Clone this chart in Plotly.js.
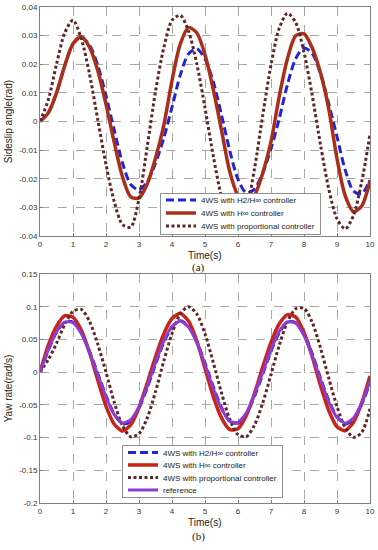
<!DOCTYPE html>
<html>
<head>
<meta charset="utf-8">
<script src="https://cdn.plot.ly/plotly-3.0.1.min.js"></script>
<style>html,body{margin:0;padding:0;background:#fff;}#chart{width:378px;height:550px;}</style>
</head>
<body>
<div id="chart"></div>
<script>
// Time axis (s)
const time = [0,0.25,0.5,0.75,1,1.25,1.5,1.75,2,2.25,2.5,2.75,3,3.25,3.5,3.75,4,4.25,4.5,4.75,5,5.25,5.5,5.75,6,6.25,6.5,6.75,7,7.25,7.5,7.75,8,8.25,8.5,8.75,9,9.25,9.5,9.75,10];

// (a) Sideslip angle (rad)
const slipH2Hinf = [0,0.003,0.010,0.0195,0.0272,0.0293,0.0267,0.0196,0.009,-0.003,-0.0145,-0.022,-0.0239,-0.021,-0.0146,-0.0058,0.005,0.0162,0.0236,0.0254,0.0218,0.0139,0.0023,-0.0102,-0.0202,-0.0249,-0.0236,-0.018,-0.0095,0.001,0.013,0.022,0.0257,0.0237,0.0167,0.0062,-0.0053,-0.017,-0.0243,-0.0252,-0.0205];
const slipHinf = [0,0.003,0.010,0.0195,0.0272,0.0296,0.026,0.0178,0.006,-0.0073,-0.0193,-0.0263,-0.0267,-0.0218,-0.0128,-0.0014,0.0143,0.027,0.0328,0.031,0.0233,0.0112,-0.003,-0.0175,-0.026,-0.0298,-0.026,-0.018,-0.007,0.0088,0.022,0.030,0.0306,0.0257,0.017,0.0044,-0.013,-0.026,-0.0315,-0.0295,-0.0206];
const slipProp = [0,0.0075,0.020,0.031,0.0354,0.029,0.0166,0.0007,-0.015,-0.028,-0.036,-0.0369,-0.027,-0.0087,0.0105,0.0257,0.0353,0.0371,0.0316,0.0202,0.0048,-0.012,-0.0264,-0.0356,-0.0378,-0.031,-0.0165,0.0022,0.0198,0.0326,0.0378,0.0345,0.0242,0.0091,-0.0081,-0.0235,-0.034,-0.0375,-0.0328,-0.021,-0.0045];

// (b) Yaw rate (rad/s)
const yawH2Hinf = [0,0.033,0.061,0.0765,0.0765,0.0605,0.032,-0.002,-0.036,-0.064,-0.079,-0.075,-0.055,-0.024,0.012,0.045,0.069,0.0785,0.070,0.047,0.014,-0.022,-0.054,-0.075,-0.078,-0.064,-0.037,-0.003,0.032,0.060,0.0765,0.0755,0.058,0.028,-0.009,-0.043,-0.068,-0.079,-0.072,-0.049,-0.017];
const yawHinf = [0,0.041,0.070,0.0862,0.0839,0.0643,0.030,-0.012,-0.052,-0.0797,-0.090,-0.0805,-0.054,-0.0165,0.0236,0.0585,0.082,0.090,0.078,0.048,0.0054,-0.037,-0.070,-0.088,-0.0865,-0.0667,-0.0326,0.008,0.0455,0.074,0.088,0.084,0.0605,0.0237,-0.0205,-0.0586,-0.0835,-0.0895,-0.0766,-0.047,-0.006];
const yawProp = [0,0.019,0.044,0.073,0.093,0.096,0.0775,0.043,0,-0.046,-0.082,-0.099,-0.094,-0.070,-0.030,0.0167,0.059,0.089,0.100,0.089,0.0585,0.015,-0.0316,-0.072,-0.0955,-0.0986,-0.081,-0.047,-0.0036,0.041,0.077,0.097,0.0974,0.076,0.037,-0.0092,-0.0526,-0.085,-0.0996,-0.092,-0.056];
const yawRef = [0,0.034,0.062,0.0765,0.0755,0.059,0.030,-0.0044,-0.038,-0.065,-0.0775,-0.0727,-0.0527,-0.0216,0.0145,0.0474,0.070,0.078,0.069,0.045,0.0116,-0.025,-0.056,-0.075,-0.0767,-0.0624,-0.0348,0,0.0348,0.0623,0.0767,0.0748,0.056,0.025,-0.0117,-0.0456,-0.0695,-0.078,-0.070,-0.047,-0.014];

// Labels
const seriesNamesA = ['4WS with H2/H\u221e controller','4WS with H\u221e controller','4WS with proportional controller'];
const seriesNamesB = ['4WS with H2/H\u221e controller','4WS with H\u221e controller','4WS with proportional controller','reference'];
const xTicks = [0,1,2,3,4,5,6,7,8,9,10];
const yTicksA = [-0.04,-0.03,-0.02,-0.01,0,0.01,0.02,0.03,0.04];
const yTickTextA = ['-0.04','-0.03','-0.02','-0.01','0','0.01','0.02','0.03','0.04'];
const yTicksB = [-0.2,-0.15,-0.1,-0.05,0,0.05,0.1,0.15];
const yTickTextB = ['-0.2','-0.15','-0.1','-0.05','0','0.05','0.1','0.15'];
const xTitle = 'Time(s)';

const BLUE='#2323d8', RED_A='#a8301a', RED_B='#c82418', BROWN='#5e2626', PURPLE='#8e3cd0';
const blueLine = {color:BLUE, width:3, dash:'8px,4px', shape:'spline', smoothing:0.8};
const dotLine = {color:BROWN, width:3, dash:'3px,2.5px', shape:'spline', smoothing:0.8};

const traces = [
  {x:time, y:slipH2Hinf, name:seriesNamesA[0], mode:'lines', line:blueLine, xaxis:'x', yaxis:'y', legend:'legend'},
  {x:time, y:slipHinf, name:seriesNamesA[1], mode:'lines', line:{color:RED_A, width:3.5, shape:'spline', smoothing:0.8}, xaxis:'x', yaxis:'y', legend:'legend'},
  {x:time, y:slipProp, name:seriesNamesA[2], mode:'lines', line:dotLine, xaxis:'x', yaxis:'y', legend:'legend'},
  {x:time, y:yawH2Hinf, name:seriesNamesB[0], mode:'lines', line:blueLine, xaxis:'x2', yaxis:'y2', legend:'legend2'},
  {x:time, y:yawHinf, name:seriesNamesB[1], mode:'lines', line:{color:RED_B, width:3.5, shape:'spline', smoothing:0.6}, xaxis:'x2', yaxis:'y2', legend:'legend2'},
  {x:time, y:yawProp, name:seriesNamesB[2], mode:'lines', line:dotLine, xaxis:'x2', yaxis:'y2', legend:'legend2'},
  {x:time, y:yawRef, name:seriesNamesB[3], mode:'lines', line:{color:PURPLE, width:3, shape:'spline', smoothing:0.6}, xaxis:'x2', yaxis:'y2', legend:'legend2'}
];

const axisCommon = {
  showline:true, mirror:true, linecolor:'#808080', linewidth:1,
  ticks:'inside', ticklen:3, tickcolor:'#808080',
  showgrid:true, gridcolor:'#a8a8a8', griddash:'dash', gridwidth:1,
  zeroline:false, tickfont:{size:8, color:'#333'}, automargin:false
};
const xCommon = Object.assign({}, axisCommon, {range:[0,10], tickvals:xTicks, ticktext:xTicks.map(String)});

const legendCommon = {xanchor:'left', yanchor:'top', bgcolor:'#ffffff', bordercolor:'#909090', borderwidth:1,
  font:{size:8, color:'#222'}, tracegroupgap:0};

const annFont = {family:'Liberation Sans, Arial, sans-serif', size:10, color:'#222'};
const serifFont = {family:'Liberation Serif, Times New Roman, serif', size:11, color:'#222'};

const layout = {
  width:378, height:550,
  margin:{l:40, r:8, t:7, b:47},
  paper_bgcolor:'#ffffff', plot_bgcolor:'#ffffff',
  font:{family:'Liberation Sans, Arial, sans-serif', size:8, color:'#222'},
  showlegend:true,
  xaxis:Object.assign({}, xCommon, {anchor:'y', domain:[0,1]}),
  yaxis:Object.assign({}, axisCommon, {anchor:'x', domain:[0.5383,1], range:[-0.04,0.04], tickvals:yTicksA, ticktext:yTickTextA,
    title:{text:'Sideslip angle(rad)', font:{size:10, color:'#222'}, standoff:4}}),
  xaxis2:Object.assign({}, xCommon, {anchor:'y2', domain:[0,1]}),
  yaxis2:Object.assign({}, axisCommon, {anchor:'x2', domain:[0,0.4617], range:[-0.2,0.15], tickvals:yTicksB, ticktext:yTickTextB,
    title:{text:'Yaw rate(rad/s)', font:{size:10, color:'#222'}, standoff:4}}),
  legend:Object.assign({}, legendCommon, {x:0.3636, y:0.626}),
  legend2:Object.assign({}, legendCommon, {x:0.2485, y:0.117}),
  annotations:[
    {text:xTitle, xref:'paper', yref:'paper', x:0.5, y:0.5, showarrow:false, xanchor:'center', yanchor:'middle', font:annFont},
    {text:xTitle, xref:'paper', yref:'paper', x:0.5, y:-0.0403, showarrow:false, xanchor:'center', yanchor:'middle', font:annFont},
    {text:'(a)', xref:'paper', yref:'paper', x:0.479, y:0.4738, showarrow:false, xanchor:'center', yanchor:'middle', font:serifFont},
    {text:'(b)', xref:'paper', yref:'paper', x:0.479, y:-0.0685, showarrow:false, xanchor:'center', yanchor:'middle', font:serifFont}
  ]
};

function compactLegends() {
  document.querySelectorAll('#chart g.legend, #chart g.legend2').forEach(function(lg){
    const items = lg.querySelectorAll('g.traces');
    const step = items.length > 3 ? 12.5 : 13;
    items.forEach(function(it, i){
      const tr = it.getAttribute('transform') || '';
      const m = /translate\(\s*([-\d.e]+)/.exec(tr);
      const x = m ? parseFloat(m[1]) : 1;
      it.setAttribute('transform', 'translate(' + x + ',' + (7.5 + i*step) + ')');
    });
    const h = items.length*step + 2;
    lg.querySelectorAll('rect.bg').forEach(function(bg){ bg.setAttribute('height', h); });
    lg.querySelectorAll('clipPath rect').forEach(function(r){ r.setAttribute('height', h); });
  });
}

Plotly.newPlot('chart', traces, layout, {staticPlot:true, displayModeBar:false}).then(compactLegends);
</script>
</body>
</html>
